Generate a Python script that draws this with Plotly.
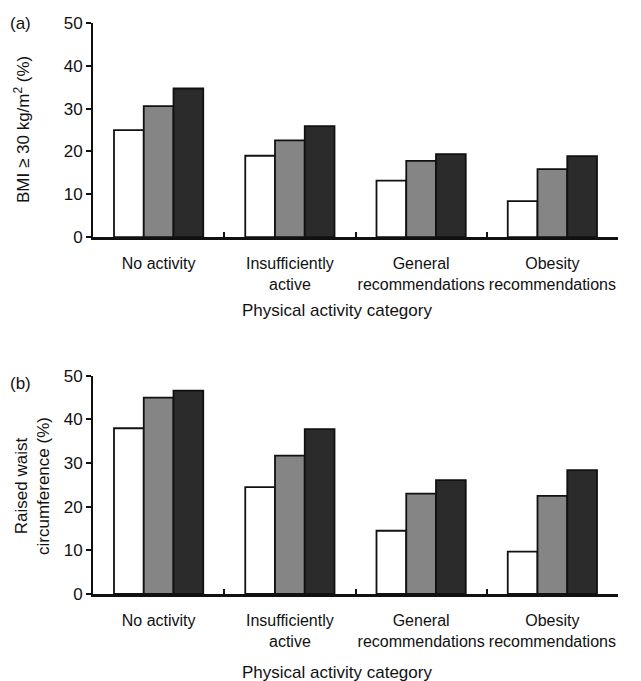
import plotly.graph_objects as go
from plotly.subplots import make_subplots

categories = ["No activity", "Insufficiently<br>active", "General<br>recommendations", "Obesity<br>recommendations"]
series_names = ["Group 1", "Group 2", "Group 3"]
bmi_values = [
    [25.0, 19.0, 13.2, 8.4],
    [30.6, 22.6, 17.8, 15.9],
    [34.7, 25.9, 19.4, 18.9],
]
waist_values = [
    [38.0, 24.5, 14.5, 9.7],
    [45.0, 31.7, 23.0, 22.5],
    [46.6, 37.8, 26.1, 28.4],
]
y_ticks = [0, 10, 20, 30, 40, 50]
fills = ["#ffffff", "#858585", "#2b2b2b"]

fig = make_subplots(rows=2, cols=1, vertical_spacing=0.243)

for i in range(3):
    fig.add_trace(go.Bar(x=categories, y=bmi_values[i], name=series_names[i],
                         marker=dict(color=fills[i], line=dict(color="#111111", width=1.8)),
                         showlegend=False), row=1, col=1)
for i in range(3):
    fig.add_trace(go.Bar(x=categories, y=waist_values[i], name=series_names[i],
                         marker=dict(color=fills[i], line=dict(color="#111111", width=1.8)),
                         showlegend=False), row=2, col=1)

font = dict(family="Liberation Sans, Arial, sans-serif", size=17, color="#111111")
tick_font = dict(family="Liberation Sans, Arial, sans-serif", size=16, color="#111111")

# page body has an 8px default margin, so the figure is sized to fit inside it
fig.update_layout(
    width=633, height=673,
    margin=dict(l=85, r=23, t=15, b=87, autoexpand=False),
    paper_bgcolor="white", plot_bgcolor="white",
    barmode="group", bargap=0.32, bargroupgap=0,
    font=font,
)

fig.update_xaxes(showline=True, linecolor="#111111", linewidth=2.5,
                 ticks="inside", tickson="boundaries", ticklen=5, tickwidth=1.5,
                 tickcolor="#111111", showgrid=False, ticklabelstandoff=10,
                 tickangle=0, automargin=False, tickfont=tick_font)
fig.update_yaxes(range=[0, 50], tickvals=y_ticks, showline=True, linecolor="#111111",
                 linewidth=2, ticks="outside", ticklen=5, tickwidth=1.5,
                 tickcolor="#111111", showgrid=False, zeroline=False,
                 automargin=False, tickfont=font)

fig.update_layout(
    yaxis=dict(domain=[0.625, 1.0]),
    yaxis2=dict(domain=[0.0, 0.382]),
)

# convert screen pixel positions (reference) to paper coordinates
def px(x):
    return (x - 93) / 525.0

def py(y):
    return (594 - y) / 571.0

annots = [
    dict(text="(a)", x=px(20), y=py(23)),
    dict(text="(b)", x=px(20), y=py(383)),
    dict(text="Physical activity category", x=px(337), y=py(310)),
    dict(text="Physical activity category", x=px(337), y=py(672)),
    dict(text="BMI \u2265 30 kg/m<sup>2</sup> (%)", x=px(22), y=py(130), textangle=-90),
    dict(text="Raised waist<br>circumference (%)", x=px(32), y=py(486), textangle=-90),
]
for a in annots:
    fig.add_annotation(xref="paper", yref="paper", showarrow=False,
                       xanchor="center", yanchor="middle", font=font, **a)

fig.write_html("out.html")
